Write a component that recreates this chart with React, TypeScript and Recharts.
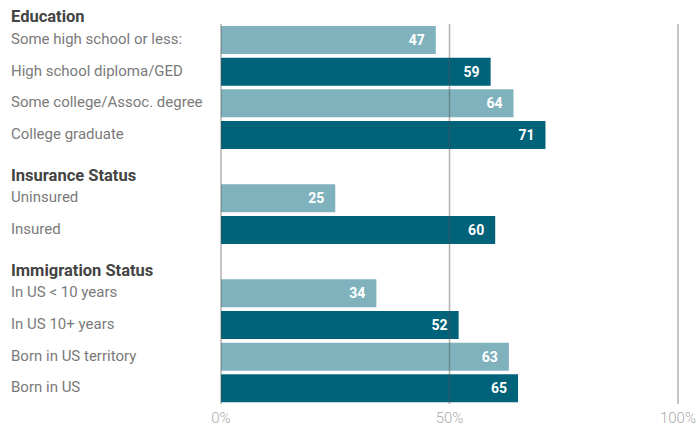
import { BarChart, Bar, XAxis, YAxis, Cell, LabelList, ReferenceLine } from "recharts"

const groupTitles = ["Education", "Insurance Status", "Immigration Status"]

const educationLabels = [
    "Some high school or less:",
    "High school diploma/GED",
    "Some college/Assoc. degree",
    "College graduate",
]
const educationValues = [47, 59, 64, 71]

const insuranceLabels = ["Uninsured", "Insured"]
const insuranceValues = [25, 60]

const immigrationLabels = [
    "In US < 10 years",
    "In US 10+ years",
    "Born in US territory",
    "Born in US",
]
const immigrationValues = [34, 52, 63, 65]

const xTicks = [0, 50, 100]

const LIGHT = "#80b2bd"
const DARK = "#00637a"

type Row = {
    id: string
    label: string
    value: number | null
    heading?: string
    shade: number
}

const groupData: [string[], number[]][] = [
    [educationLabels, educationValues],
    [insuranceLabels, insuranceValues],
    [immigrationLabels, immigrationValues],
]

const rows: Row[] = []
groupData.forEach(([labels, values], g) => {
    if (g > 0) rows.push({ id: `gap-${g}`, label: "", value: null, shade: 0 })
    labels.forEach((label, i) => {
        rows.push({
            id: label,
            label,
            value: values[i],
            heading: i === 0 ? groupTitles[g] : undefined,
            shade: i % 2,
        })
    })
})

const CategoryTick = (props: any) => {
    const { y, payload } = props
    const row = rows.find((r) => r.id === payload.value)
    if (!row) return null
    return (
        <g>
            {row.heading && (
                <text x={11} y={y - 23} dominantBaseline="central" fontSize={16.5} fontWeight={700} fill="#444">
                    {row.heading}
                </text>
            )}
            <text x={11} y={y - 1} dominantBaseline="central" fontSize={15} fill="#7a7a7a">
                {row.label}
            </text>
        </g>
    )
}

export default function App() {
    return (
        <div style={{ position: "absolute", left: 0, top: 0, fontFamily: "Roboto" }}>
            <BarChart
                width={698}
                height={427}
                data={rows}
                layout="vertical"
                margin={{ top: 24, right: 20, bottom: 0, left: 0 }}
                barCategoryGap={2}
            >
                <XAxis
                    type="number"
                    domain={[0, 100]}
                    ticks={xTicks}
                    tickFormatter={(v) => `${v}%`}
                    axisLine={false}
                    tickLine={false}
                    height={23}
                    fontSize={15}
                    fontWeight={300}
                    tick={{ fill: "#aaa" }}
                />
                <YAxis
                    type="category"
                    dataKey="id"
                    width={221}
                    axisLine={false}
                    tickLine={false}
                    interval={0}
                    tick={(p: any) => <CategoryTick {...p} />}
                />
                <Bar dataKey="value" isAnimationActive={false}>
                    {rows.map((r) => (
                        <Cell key={r.id} fill={r.shade ? DARK : LIGHT} />
                    ))}
                    <LabelList
                        dataKey="value"
                        position="insideRight"
                        offset={11}
                        fill="#fff"
                        fontSize={14}
                        fontWeight={700}
                    />
                </Bar>
                {xTicks.map((t) => (
                    <ReferenceLine key={t} x={t} stroke="#555" strokeOpacity={0.45} strokeWidth={1.5} />
                ))}
            </BarChart>
        </div>
    )
}
